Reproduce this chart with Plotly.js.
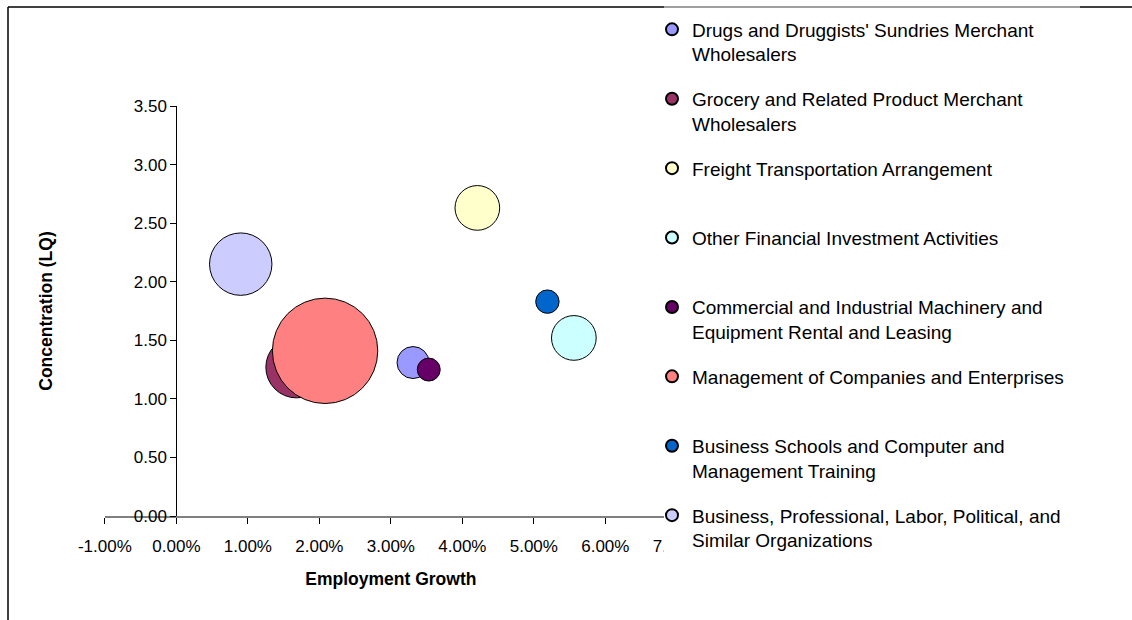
<!DOCTYPE html>
<html><head><meta charset="utf-8">
<script src="https://cdn.plot.ly/plotly-3.0.1.min.js"></script>
<style>html,body{margin:0;padding:0;background:#fff}</style>
</head><body><div id="chart" style="width:1132px;height:620px"></div>
<script>
// ---- data ----
const industries = [
  "Drugs and Druggists' Sundries Merchant<br>Wholesalers",
  "Grocery and Related Product Merchant<br>Wholesalers",
  "Freight Transportation Arrangement",
  "Other Financial Investment Activities",
  "Commercial and Industrial Machinery and<br>Equipment Rental and Leasing",
  "Management of Companies and Enterprises",
  "Business Schools and Computer and<br>Management Training",
  "Business, Professional, Labor, Political, and<br>Similar Organizations"
];
const employmentGrowth = [0.0331, 0.0168, 0.0421, 0.0556, 0.0353, 0.0208, 0.0519, 0.0090];
const concentrationLQ  = [1.31, 1.27, 2.63, 1.52, 1.25, 1.41, 1.83, 2.15];
const bubbleSize       = [256, 940, 500, 500, 132, 2780, 137, 975];
const xTickVals = [-0.01, 0, 0.01, 0.02, 0.03, 0.04, 0.05, 0.06, 0.07];
const xTickText = ["-1.00%", "0.00%", "1.00%", "2.00%", "3.00%", "4.00%", "5.00%", "6.00%", "7.00%"];
const yTickVals = [0, 0.5, 1, 1.5, 2, 2.5, 3, 3.5];
const yTickText = ["0.00", "0.50", "1.00", "1.50", "2.00", "2.50", "3.00", "3.50"];

// ---- style ----
const colors = ["#9999FF", "#993366", "#FFFFCC", "#CCFFFF", "#660066", "#FF8080", "#0066CC", "#CCCCFF"];
const W = 1132, H = 620;
const FONT = "Liberation Sans, Arial, sans-serif";
const maxBubbleRadius = 52.7;
const sizeref = Math.max(...bubbleSize) / (2 * maxBubbleRadius * maxBubbleRadius);

const traces = industries.map((name, i) => ({
  type: "scatter",
  mode: "markers",
  name: name.indexOf("<br>") >= 0 ? name : name + "<br> ",
  legendgroup: "g" + i,
  x: [employmentGrowth[i]],
  y: [concentrationLQ[i]],
  marker: {
    size: [bubbleSize[i]],
    sizemode: "area",
    sizeref: sizeref,
    color: colors[i],
    opacity: 1,
    line: {color: "#000000", width: 1}
  },
  hoverinfo: "name+x+y"
}));

const px = v => v / W;
const py = v => 1 - v / H;

const layout = {
  width: W, height: H,
  margin: {l: 0, r: 0, t: 0, b: 0},
  paper_bgcolor: "#ffffff",
  plot_bgcolor: "rgba(0,0,0,0)",
  font: {family: FONT, color: "#000000", size: 17},
  showlegend: true,
  xaxis: {
    domain: [px(104.9), px(676.8)],
    range: [-0.01, 0.07],
    tickvals: xTickVals, ticktext: xTickText,
    ticks: "outside", ticklen: 6, tickcolor: "#000000", tickwidth: 1,
    ticklabelstandoff: 8,
    showline: true, linecolor: "#808080", linewidth: 2,
    showgrid: false, zeroline: false,
    tickfont: {family: FONT, size: 17, color: "#000000"},
    title: {text: "<b>Employment Growth</b>", font: {family: FONT, size: 17.5, color: "#000000"}, standoff: 17},
    anchor: "y"
  },
  yaxis: {
    domain: [py(516), py(106)],
    range: [0, 3.5],
    tickvals: yTickVals, ticktext: yTickText,
    ticks: "outside", ticklen: 6, tickcolor: "#000000", tickwidth: 1,
    showline: true, linecolor: "#000000", linewidth: 1,
    showgrid: false, zeroline: false,
    tickfont: {family: FONT, size: 17, color: "#000000"},
    title: {text: "<b>Concentration (LQ)</b>", font: {family: FONT, size: 17.5, color: "#000000"}, standoff: 75},
    anchor: "free", position: px(176.3)
  },
  legend: {
    x: px(652), xanchor: "left",
    y: py(10.5), yanchor: "top",
    bgcolor: "rgba(0,0,0,0)", borderwidth: 0,
    font: {family: FONT, size: 19, color: "#000000"},
    itemsizing: "constant",
    valign: "top",
    tracegroupgap: 17
  },
  shapes: [
    {type: "rect", layer: "above", xref: "paper", yref: "paper", x0: px(664), x1: 1, y0: 0, y1: py(8.5), fillcolor: "#ffffff", line: {width: 0}},
    {type: "line", xref: "paper", yref: "paper", x0: px(8), x1: px(8), y0: 0, y1: py(7), line: {color: "#000000", width: 1.5}},
    {type: "line", xref: "paper", yref: "paper", x0: px(8), x1: px(664), y0: py(7), y1: py(7), line: {color: "#000000", width: 1.5}},
    {type: "line", xref: "paper", yref: "paper", x0: px(664), x1: px(1080), y0: py(7), y1: py(7), line: {color: "#808080", width: 1.5}},
    {type: "line", xref: "paper", yref: "paper", x0: px(1080), x1: 1, y0: py(7), y1: py(7), line: {color: "#000000", width: 1.5}}
  ]
};

Plotly.newPlot("chart", traces, layout, {displayModeBar: false, staticPlot: true});
</script>
</body></html>
